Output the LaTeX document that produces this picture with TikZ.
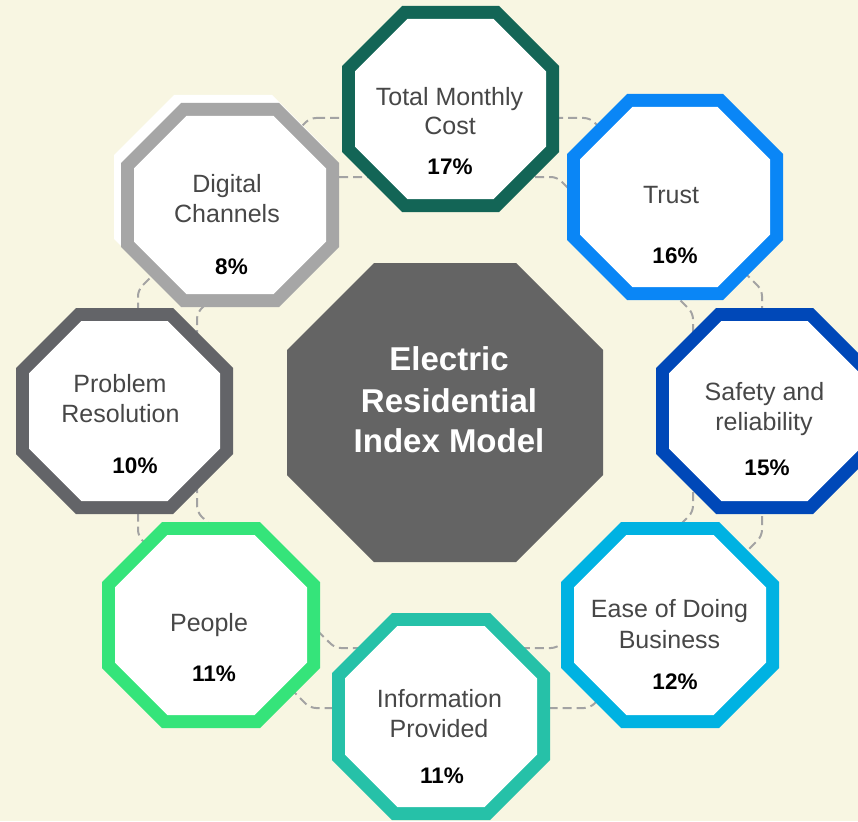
\documentclass[tikz,border=0pt]{standalone}
\usepackage{fontspec}
\setmainfont{Liberation Sans}

\definecolor{paper}{HTML}{F8F6E2}
\definecolor{ringgray}{HTML}{A3A3A3}
\definecolor{coregray}{HTML}{646464}
\definecolor{labelgray}{HTML}{474747}
\definecolor{costgreen}{HTML}{136556}
\definecolor{trustblue}{HTML}{0A86F6}
\definecolor{safeblue}{HTML}{0048B8}
\definecolor{easecyan}{HTML}{00B2E2}
\definecolor{infoteal}{HTML}{26C1A8}
\definecolor{peoplegreen}{HTML}{35E47A}
\definecolor{probgray}{HTML}{636468}
\definecolor{digigray}{HTML}{A6A6A6}

% filled octagon from its bounding box (x1,y1)-(x2,y2) with corner cut c
\newcommand\octfill[6]{%
  \fill[#1] ({(#2)+(#6)},{#3}) -- ({(#4)-(#6)},{#3}) -- ({#4},{(#3)+(#6)})
    -- ({#4},{(#5)-(#6)}) -- ({(#4)-(#6)},{#5}) -- ({(#2)+(#6)},{#5})
    -- ({#2},{(#5)-(#6)}) -- ({#2},{(#3)+(#6)}) -- cycle;}
% ringed octagon: coloured band of width 13 around a white face
\newcommand\octring[6]{%
  \octfill{#1}{#2}{#3}{#4}{#5}{#6}%
  \octfill{white}{#2+13}{#3+13}{#4-13}{#5-13}{#6-7.6}}

\tikzset{
  ring/.style={draw=ringgray, line width=2pt, dash pattern=on 9pt off 5pt, rounded corners=6pt},
  lbl/.style={text=labelgray, font=\fontsize{25}{30}\selectfont, anchor=base, inner sep=0pt},
  pct/.style={text=black, font=\fontsize{22.5}{26}\selectfont\bfseries, anchor=base, inner sep=0pt},
  core/.style={text=white, font=\fontsize{33}{41}\selectfont\bfseries, anchor=base, inner sep=0pt}
}

\begin{document}
\begin{tikzpicture}[x=1pt,y=-1pt]
  \useasboundingbox (0,0) rectangle (858,821);
  \clip (0,0) rectangle (858,821);
  \fill[paper] (0,0) rectangle (858,821);

  % dashed double ring linking the outer octagons
  \draw[ring] (310,118) -- (590,118) -- (762,290) -- (762,536) -- (590,708)
    -- (310,708) -- (138,536) -- (138,290) -- cycle;
  \draw[ring] (333,177) -- (557,177) -- (693,313) -- (693,512) -- (557,648)
    -- (335,648) -- (197,512) -- (197,313) -- cycle;

  % central octagon
  \octfill{coregray}{287}{263}{603}{562}{87}
  \node[core] (core1) at (449,370) {Electric};
  \node[core] (core2) at (449,412) {Residential};
  \node[core] (core3) at (449,452) {Index Model};

  % outer octagons
  \octring{costgreen}{342}{6}{559}{212}{60}
  \octring{trustblue}{567}{94}{783}{300}{60}
  \octring{safeblue}{656}{308}{873}{514}{60}
  \octring{easecyan}{561}{522}{779}{728}{60}
  \octring{infoteal}{332}{613}{550}{820}{60}
  \octring{peoplegreen}{102}{522}{320}{728}{60}
  \octring{probgray}{16}{308}{233}{514}{60}
  \octfill{white}{114}{95}{332}{299}{60}
  \octring{digigray}{121}{103}{339}{307}{60}

  % labels and weights
  \node[lbl] (cost1) at (449.5,106) {Total Monthly};
  \node[lbl] (cost2) at (450,135) {Cost};
  \node[pct] (costp) at (450,175) {17\%};

  \node[lbl] (trust1) at (671,203) {Trust};
  \node[pct] (trustp) at (675,263) {16\%};

  \node[lbl] (safe1) at (764.5,400) {Safety and};
  \node[lbl] (safe2) at (764,430) {reliability};
  \node[pct] (safep) at (767,475) {15\%};

  \node[lbl] (ease1) at (669.5,617) {Ease of Doing};
  \node[lbl] (ease2) at (669.5,648) {Business};
  \node[pct] (easep) at (675,689) {12\%};

  \node[lbl] (info1) at (439.5,707) {Information};
  \node[lbl] (info2) at (439,737) {Provided};
  \node[pct] (infop) at (442,783) {11\%};

  \node[lbl] (people1) at (209,631) {People};
  \node[pct] (peoplep) at (214,681) {11\%};

  \node[lbl] (prob1) at (120,392) {Problem};
  \node[lbl] (prob2) at (120.5,422) {Resolution};
  \node[pct] (probp) at (135,473) {10\%};

  \node[lbl] (digi1) at (227,192) {Digital};
  \node[lbl] (digi2) at (227,222) {Channels};
  \node[pct] (digip) at (231.5,274) {8\%};
\end{tikzpicture}
\end{document}
